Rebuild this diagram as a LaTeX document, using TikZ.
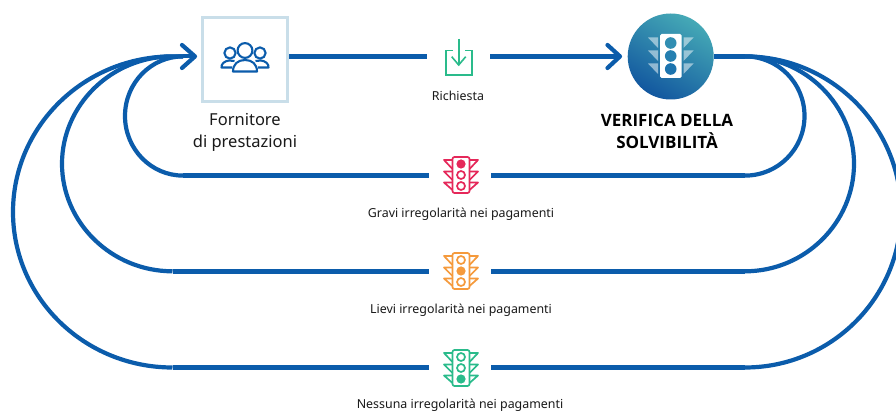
\documentclass[tikz,border=0pt]{standalone}
\usepackage{fontspec}
\setmainfont{Noto Sans}
\newfontfamily\heavyfont{Open Sans}[BoldFont={Open Sans Bold}]
\definecolor{flowblue}{HTML}{0B5CAB}
\definecolor{boxline}{HTML}{C9DEE9}
\definecolor{mint}{HTML}{2ABB8B}
\definecolor{sigred}{HTML}{E5285A}
\definecolor{sigorange}{HTML}{F59A3C}
\definecolor{tealtop}{HTML}{45A9B6}
\definecolor{bluebot}{HTML}{12579F}
\definecolor{inktext}{HTML}{1A1A1A}
\tikzset{
  flow/.style={draw=flowblue,line width=4.2pt},
  run/.style={draw=flowblue,line width=4.8pt},
  chevron/.style={draw=flowblue,line width=4.2pt,line cap=round,line join=round},
  capt/.style={text=inktext,font=\fontsize{12.4}{14}\selectfont,inner sep=0pt,anchor=center},
  bigcapt/.style={text=inktext,font=\fontsize{16.5}{21.5}\selectfont,inner sep=0pt,align=center},
  boldcapt/.style={text=black,font=\heavyfont\fontsize{17}{21.5}\selectfont\bfseries,inner sep=0pt,align=center},
}
% traffic-light icon: y centre, colour, lit lamp
\newcommand{\signalicon}[3]{%
  \begin{scope}[shift={(461,#1)},draw=#2,line width=1.7pt,line join=round]
    \draw[rounded corners=2pt] (-8.5,-18) rectangle (8.5,18);
    \foreach \t/\b in {-15/-6,-3.5/5,7.5/15}{
      \draw (-8.5,\t) -- (-17,\t) -- (-8.5,\b);
      \draw (8.5,\t) -- (17,\t) -- (8.5,\b);
    }
    \foreach \n/\c in {1/-11,2/0,3/11}{
      \ifnum\n=#3\relax
        \fill[#2] (0,\c) circle (4.6);
      \else
        \draw (0,\c) circle (4);
      \fi
    }
  \end{scope}}
\begin{document}
\begin{tikzpicture}[x=1pt,y=-1pt]
\clip (0,0) rectangle (896,411);
\fill[white] (0,0) rectangle (896,411);

% main nodes
\node[draw=boxline,line width=2.6pt,minimum width=85.5pt,minimum height=84pt,inner sep=0pt] (supplier) at (245,59.7) {};
\node[circle,minimum size=86pt,inner sep=0pt,top color=tealtop,bottom color=bluebot,shading angle=-30] (check) at (670.7,56.5) {};

% anchors of the flow
\coordinate (in) at (195,56.4);
\coordinate (mid) at (620,56.4);
\coordinate (topL) at (427,56.4);
\coordinate (topR) at (490,56.4);
\coordinate (outR) at (745,56.4);
\coordinate (outL) at (183,56.4);
\coordinate (redL) at (429,175.6);
\coordinate (redR) at (491,175.6);
\coordinate (redEndL) at (183,175.6);
\coordinate (redEndR) at (745,175.6);
\coordinate (oraL) at (429,271.3);
\coordinate (oraR) at (491,271.3);
\coordinate (oraEndL) at (172.5,271.3);
\coordinate (oraEndR) at (745,271.3);
\coordinate (greL) at (429,367.5);
\coordinate (greR) at (491,367.5);
\coordinate (greEndL) at (172.5,367.5);
\coordinate (greEndR) at (745,367.5);

% straight runs
\draw[run] (supplier.east |- topL) -- (topL);
\draw[run] (topR) -- (mid);
\draw[run] (check.east |- outR) -- (outR);
\draw[flow] (in) -- (outL);
\draw[run] (redEndL) -- (redL);
\draw[run] (redR) -- (redEndR);
\draw[run] (oraEndL) -- (oraL);
\draw[run] (oraR) -- (oraEndR);
\draw[run] (greEndL) -- (greL);
\draw[run] (greR) -- (greEndR);

% left returns
\draw[flow] (redEndL) .. controls (151,175.6) and (125,149) .. (125,116) .. controls (125,83) and (151,56.4) .. (outL);
\draw[flow] (oraEndL) .. controls (111.5,271.3) and (62,222.5) .. (62,163.8) .. controls (62,105) and (111.5,56.4) .. (172.5,56.4) -- (outL);
\draw[flow] (greEndL) .. controls (84.5,367.5) and (13,298) .. (13,212) .. controls (13,126) and (84.5,56.4) .. (172.5,56.4) -- (outL);

% right departures
\draw[flow] (redEndR) .. controls (778,175.6) and (804.5,149) .. (804.5,116) .. controls (804.5,83) and (778,56.4) .. (outR);
\draw[flow] (oraEndR) .. controls (805.2,271.3) and (854,222.5) .. (854,163.8) .. controls (854,105) and (805.2,56.4) .. (outR);
\draw[flow] (greEndR) .. controls (831,367.5) and (901,298) .. (901,212) .. controls (901,126) and (831,56.4) .. (outR);

% arrow heads
\draw[chevron] (182,45) -- (in) -- (182,68);
\draw[chevron] (607.5,45) -- (mid) -- (607.5,68);

% people icon
\begin{scope}[draw=flowblue,line width=2.1pt,line join=round]
  \draw[fill=white] (230,53) circle (5.6);
  \draw[fill=white] (260,53) circle (5.6);
  \draw (234.5,61) -- (229,60.5) .. controls (224.5,61) and (221,64) .. (221.5,67.5) -- (232,67.5);
  \draw (255.5,61) -- (261,60.5) .. controls (265.5,61) and (269,64) .. (268.5,67.5) -- (258,67.5);
  \draw (245,50.5) circle (7.4);
  \draw[fill=white] (233,71.5) .. controls (233,64) and (238,60) .. (245,60) .. controls (252,60) and (257,64) .. (257,71.5) -- cycle;
\end{scope}

% request icon
\draw[mint,line width=1.6pt] (452.5,50.7) -- (446,50.7) -- (446,75) -- (471.7,75) -- (471.7,50.7) -- (465,50.7);
\draw[mint,line width=1.6pt] (458.7,39) -- (458.7,65);
\draw[mint,line width=1.6pt] (451.7,56.7) -- (458.7,65) -- (465.7,56.7);

% white traffic light in the circle
\fill[white,rounded corners=1.5pt] (660,34) rectangle (681.5,78);
\foreach \c in {43,56,69}{
  \fill[white,opacity=.5] (648,\c-5.5) -- (658,\c-5.5) -- (658,\c+5) -- cycle;
  \fill[white,opacity=.5] (693.5,\c-5.5) -- (683.5,\c-5.5) -- (683.5,\c+5) -- cycle;
}
\fill[flowblue!35!tealtop] (670.7,43) circle (5.8);
\fill[flowblue!55!tealtop] (670.7,56) circle (5.8);
\fill[flowblue!70!tealtop] (670.7,69) circle (5.8);

% signals
\signalicon{175}{sigred}{1}
\signalicon{271}{sigorange}{2}
\signalicon{368}{mint}{3}

% labels
\node[bigcapt] (lblsupplier) at (245,132.5) {Fornitore\\di prestazioni};
\node[boldcapt] (lblcheck) at (667,131.5) {VERIFICA DELLA\\SOLVIBILITÀ};
\node[capt] (lblreq) at (458,95.5) {Richiesta};
\node[capt] (lblred) at (461,214) {Gravi irregolarità nei pagamenti};
\node[capt] (lblora) at (461,310) {Lievi irregolarità nei pagamenti};
\node[capt] (lblgre) at (460,405.5) {Nessuna irregolarità nei pagamenti};
\end{tikzpicture}
\end{document}
